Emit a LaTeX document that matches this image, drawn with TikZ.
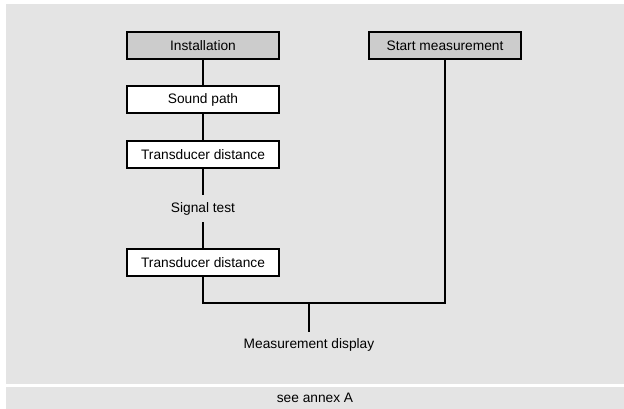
\documentclass[tikz,border=0pt]{standalone}
\usepackage{fontspec}
\setmainfont{Liberation Sans}
\usepackage{xcolor}
\usepackage{tikz}
\usetikzlibrary{positioning,calc}

\definecolor{panelgray}{RGB}{228,228,228}
\definecolor{boxgray}{RGB}{204,204,204}

\begin{document}
\begin{tikzpicture}[
    x=0.75pt, y=-0.75pt,
    font=\fontsize{10.3}{12}\selectfont,
    b/.style={draw, line width=1.5pt, align=center, minimum width=152*0.75pt, minimum height=27*0.75pt, inner sep=0pt, fill=white},
    st/.style={b, fill=boxgray},
    tx/.style={align=center, minimum height=27*0.75pt, inner sep=0pt},
    fl/.style={line width=1.5pt},
]
    \useasboundingbox (0,0) rectangle (624,409);
    % panels
    \fill[panelgray] (6,4) rectangle (624,383.5);
    \fill[panelgray] (6,386.5) rectangle (624,409);

    \node[st] (inst) at (203,45.5) {Installation};
    \node[st] (start) at (445,45.5) {Start measurement};
    \node[b] (snd) at (203,99.5) {Sound path};
    \node[b] (td1) at (203,154.5) {Transducer distance};
    \node[tx] (sig) at (203,208.5) {Signal test};
    \node[b] (td2) at (203,262.5) {Transducer distance};
    \coordinate (jn) at (309,303.5);
    \node[tx, anchor=north] (disp) at (309,331.5) {Measurement display};
    \node[tx] (annex) at (315,397.5) {see annex A};

    \draw[fl] (inst) -- (snd);
    \draw[fl] (snd) -- (td1);
    \draw[fl] (td1) -- (sig);
    \draw[fl] (sig) -- (td2);
    \draw[fl] (td2.south) |- (jn) -| (start.south);
    \draw[fl] (jn) -- (disp);
\end{tikzpicture}
\end{document}
